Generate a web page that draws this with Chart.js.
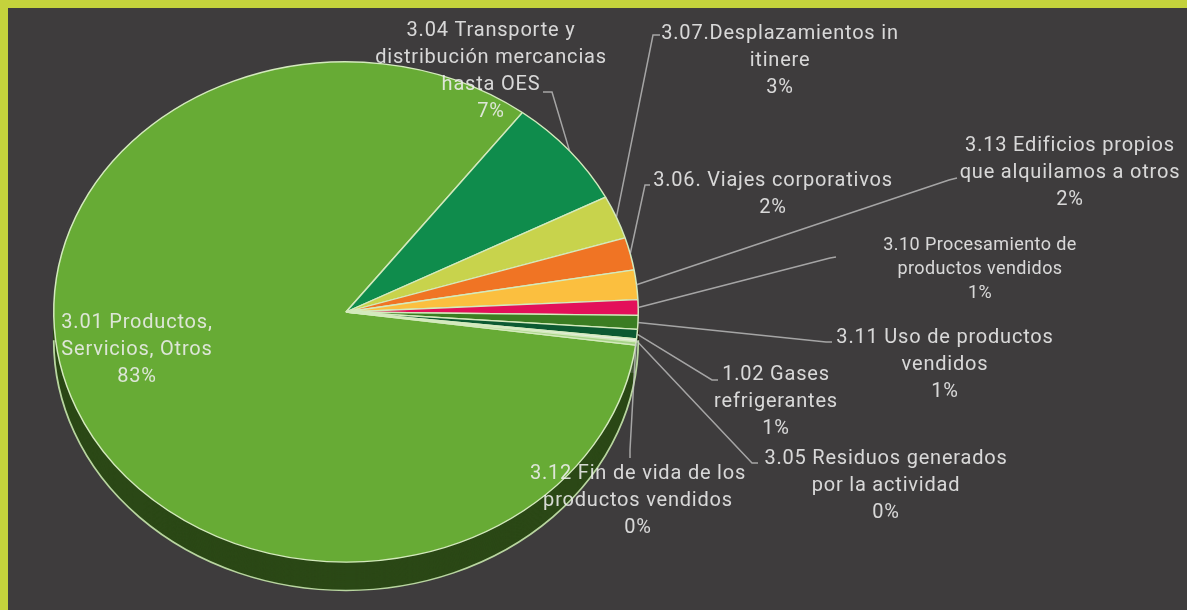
<!DOCTYPE html>
<html>
<head>
<meta charset="utf-8">
<script src="https://cdn.jsdelivr.net/npm/chart.js@4/dist/chart.umd.min.js"></script>
<style>
  html, body { margin: 0; padding: 0; background: #3e3c3d; }
  body { position: relative; width: 1187px; height: 610px; overflow: hidden; }
  #frame {
    position: absolute; left: 0; top: 0; width: 1187px; height: 610px;
    box-sizing: border-box; background: #3e3c3d;
    border-top: 8px solid #c4d23c; border-left: 8px solid #c4d23c;
  }
  #chart { position: absolute; left: 0; top: 0; }
</style>
</head>
<body>
<div id="frame"></div>
<canvas id="chart" width="1187" height="610"></canvas>
<script>
// data
const categories = [
  ['3.01 Productos,', 'Servicios, Otros'],
  ['3.04 Transporte y', 'distribución mercancias', 'hasta OES'],
  ['3.07.Desplazamientos in', 'itinere'],
  ['3.06. Viajes corporativos'],
  ['3.13 Edificios propios', 'que alquilamos a otros'],
  ['3.10 Procesamiento de', 'productos vendidos'],
  ['3.11 Uso de productos', 'vendidos'],
  ['1.02 Gases', 'refrigerantes'],
  ['3.05 Residuos generados', 'por la actividad'],
  ['3.12 Fin de vida de los', 'productos vendidos']
];
const shares = [83.2, 7.1, 2.8, 2.1, 1.9, 1.0, 0.9, 0.6, 0.2, 0.2];
const sliceColors = ['#67ab35', '#0f8c4c', '#c8d34c', '#f07424', '#fbbf3f',
                     '#e3105a', '#3b7d22', '#0c5a32', '#e4eedc', '#a6d487'];

// where each label sits (text centre, first line) and its leader start/elbow
const labelLayout = [
  { x: 137, y: 323, lh: 27 },
  { x: 491, y: 31,  lh: 27, lead: [[543, 92], [552, 92]] },
  { x: 780, y: 34,  lh: 27, lead: [[660, 35], [653, 35]] },
  { x: 773, y: 181, lh: 27, lead: [[650, 185], [645, 185]] },
  { x: 1070, y: 146, lh: 27, lead: [[957, 178], [949, 180]] },
  { x: 980, y: 245, lh: 24, lead: [[836, 257], [830, 258]], small: true },
  { x: 945, y: 338, lh: 27, lead: [[832, 342], [826, 342]] },
  { x: 776, y: 375, lh: 27, lead: [[718, 380], [712, 380]] },
  { x: 886, y: 459, lh: 27, lead: [[758, 463], [752, 463]] },
  { x: 638, y: 474, lh: 27, lead: [[630, 458], [630, 450]] }
];

const SY = 0.856;   // vertical squash of the tilted pie
const DEPTH = 33;   // thickness of the pie edge

function shade(hex, f) {
  const n = parseInt(hex.slice(1), 16);
  const r = (n >> 16) & 255, g = (n >> 8) & 255, b = n & 255;
  return `rgb(${Math.round(r * f)},${Math.round(g * f)},${Math.round(b * f)})`;
}

// squash the pie into an ellipse and give it a side wall
const tiltPlugin = {
  id: 'tilt',
  beforeDatasetsDraw(chart) {
    const ctx = chart.ctx;
    const arcs = chart.getDatasetMeta(0).data;
    const { x, y } = arcs[0];
    ctx.save();
    ctx.translate(x, y);
    ctx.scale(1, SY);
    ctx.translate(-x, -y);
    arcs.forEach((a, i) => {
      ctx.fillStyle = shade(sliceColors[i], 0.42);
      for (let d = DEPTH; d > 0; d--) {
        ctx.beginPath();
        ctx.moveTo(a.x, a.y + d);
        ctx.arc(a.x, a.y + d, a.outerRadius, a.startAngle, a.endAngle);
        ctx.closePath();
        ctx.fill();
      }
    });
    ctx.beginPath();
    ctx.arc(x, y + DEPTH, arcs[0].outerRadius, 0, Math.PI);
    ctx.strokeStyle = '#b9d6a0';
    ctx.lineWidth = 1.8;
    ctx.stroke();
  },
  afterDatasetsDraw(chart) {
    chart.ctx.restore();
  }
};

// labels with leader lines
const labelsPlugin = {
  id: 'sliceLabels',
  afterDraw(chart) {
    const ctx = chart.ctx;
    const arcs = chart.getDatasetMeta(0).data;
    const total = shares.reduce((s, v) => s + v, 0);
    ctx.save();
    arcs.forEach((a, i) => {
      const L = labelLayout[i];
      if (L.lead) {
        const mid = (a.startAngle + a.endAngle) / 2;
        const ex = a.x + a.outerRadius * Math.cos(mid);
        const ey = a.y + a.outerRadius * Math.sin(mid) * SY;
        ctx.beginPath();
        ctx.moveTo(L.lead[0][0], L.lead[0][1]);
        ctx.lineTo(L.lead[1][0], L.lead[1][1]);
        ctx.lineTo(ex, ey);
        ctx.strokeStyle = 'rgba(200,200,200,0.75)';
        ctx.lineWidth = 1.5;
        ctx.stroke();
      }
      const lines = [...categories[i], Math.round(shares[i] / total * 100) + '%'];
      ctx.font = L.small ? '18px Roboto, "DejaVu Sans Condensed", sans-serif'
                         : '20px Roboto, "DejaVu Sans Condensed", sans-serif';
      ctx.letterSpacing = L.small ? '0.4px' : '0.8px';
      ctx.fillStyle = 'rgba(238,238,238,0.88)';
      ctx.textAlign = 'center';
      ctx.textBaseline = 'middle';
      lines.forEach((t, k) => ctx.fillText(t, L.x, L.y + k * L.lh));
    });
    ctx.restore();
  }
};

new Chart(document.getElementById('chart'), {
  type: 'pie',
  data: {
    labels: categories,
    datasets: [{
      data: shares,
      backgroundColor: sliceColors,
      borderColor: '#d4eabd',
      borderWidth: 1.5
    }]
  },
  options: {
    responsive: false,
    animation: false,
    events: [],
    rotation: 97.6,
    layout: { padding: { left: 53, right: 548, top: 19, bottom: 5 } },
    plugins: { legend: { display: false }, tooltip: { enabled: false } }
  },
  plugins: [tiltPlugin, labelsPlugin]
});
</script>
</body>
</html>
